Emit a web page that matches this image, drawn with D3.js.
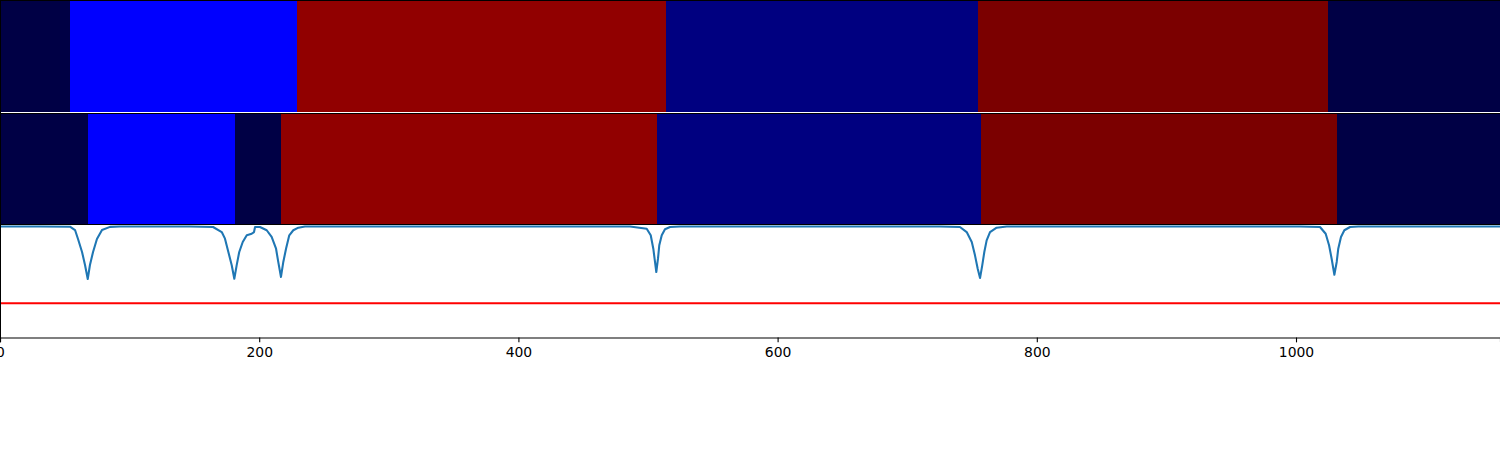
<!DOCTYPE html>
<html>
<head>
<meta charset="utf-8">
<script src="https://cdn.jsdelivr.net/npm/d3@7"></script>
<style>
  html, body { margin: 0; padding: 0; background: #fff; }
  svg { display: block; }
</style>
</head>
<body>
<svg id="chart" width="1500" height="450"></svg>
<script>
// ---- data ----
const xMax = 1157.4;
const xTicks = [0, 200, 400, 600, 800, 1000];

// row 1 segments: start positions and class
const row1Starts = [0, 54.0, 229.2, 513.9, 754.6, 1024.7];
const row1Classes = ["c0", "c1", "c3", "c2", "c4", "c0"];

// row 2 segments
const row2Starts = [0, 67.7, 181.6, 216.8, 506.9, 757.0, 1031.6];
const row2Classes = ["c0", "c1", "c0", "c3", "c2", "c4", "c0"];

const classColors = { c0: "#000045", c1: "#0000ff", c2: "#000080", c3: "#910000", c4: "#7b0000" };

// signal curve (x, value)
const signalX = [0, 30.9, 54.0, 57.9, 60.2, 63.3, 65.6, 67.7, 69.4, 71.8, 74.8, 78.7, 84.9, 92.6,
  146.6, 164.4, 171.1, 173.6, 176.2, 178.8, 180.8, 182.6, 184.6, 187.3, 190.4, 194.2, 196.0, 196.8, 200.6,
  205.8, 209.6, 213.0, 214.7, 216.8, 218.6, 220.7, 223.2, 226.3, 230.2, 235.3, 246.9,
  486.1, 499.0, 502.1, 504.1, 505.4, 506.4, 507.7, 508.7, 510.6, 513.1, 517.0, 524.7,
  725.3, 740.7, 745.9, 749.8, 752.3, 754.4, 756.2, 757.9, 759.5, 761.3, 763.9, 769.0, 776.8,
  1003.1, 1018.5, 1022.9, 1025.5, 1027.5, 1029.6, 1031.4, 1032.6, 1034.7, 1037.3, 1041.7, 1048.1, 1157.4];
const signalY = [0.996, 0.996, 0.994, 0.964, 0.884, 0.768, 0.652, 0.527, 0.652, 0.768, 0.884, 0.964, 0.992, 0.996,
  0.996, 0.991, 0.946, 0.887, 0.768, 0.649, 0.529, 0.649, 0.768, 0.857, 0.917, 0.931, 0.946, 0.991, 0.991,
  0.962, 0.902, 0.797, 0.679, 0.545, 0.679, 0.797, 0.917, 0.962, 0.985, 0.996, 0.996,
  0.996, 0.976, 0.917, 0.797, 0.679, 0.589, 0.708, 0.828, 0.917, 0.971, 0.991, 0.996,
  0.996, 0.991, 0.946, 0.857, 0.738, 0.619, 0.536, 0.649, 0.768, 0.872, 0.946, 0.985, 0.996,
  0.996, 0.991, 0.931, 0.828, 0.708, 0.565, 0.679, 0.797, 0.902, 0.962, 0.991, 0.996, 0.996];

const threshold = 0.31;

// ---- drawing ----
const svg = d3.select("#chart");
svg.append("rect").attr("width", 1500).attr("height", 450).attr("fill", "#fff");

const x = d3.scaleLinear().domain([0, xMax]).range([0, 1500]);

function segs(starts, classes) {
  return starts.map((s, i) => ({ x0: s, x1: i + 1 < starts.length ? starts[i + 1] : xMax, c: classes[i] }));
}

// row 1
svg.append("g").selectAll("rect").data(segs(row1Starts, row1Classes)).join("rect")
  .attr("x", d => x(d.x0)).attr("width", d => x(d.x1) - x(d.x0) + 0.5)
  .attr("y", 0).attr("height", 112)
  .attr("fill", d => classColors[d.c]).attr("shape-rendering", "crispEdges");

// row 2
svg.append("g").selectAll("rect").data(segs(row2Starts, row2Classes)).join("rect")
  .attr("x", d => x(d.x0)).attr("width", d => x(d.x1) - x(d.x0) + 0.5)
  .attr("y", 114).attr("height", 110.5)
  .attr("fill", d => classColors[d.c]).attr("shape-rendering", "crispEdges");

// panel 3
const y3 = d3.scaleLinear().domain([0, 1]).range([338, 226]);
const pts = signalX.map((v, i) => [v, signalY[i]]);

svg.append("line").attr("x1", 0).attr("x2", 1500)
  .attr("y1", y3(threshold)).attr("y2", y3(threshold))
  .attr("stroke", "#ff0000").attr("stroke-width", 2.08);

svg.append("path").datum(pts)
  .attr("d", d3.line().x(d => x(d[0])).y(d => y3(d[1])).curve(d3.curveLinear))
  .attr("fill", "none").attr("stroke", "#1f77b4").attr("stroke-width", 2.08)
  .attr("stroke-linejoin", "round").attr("stroke-linecap", "round");

// spines
const spine = svg.append("g").attr("stroke", "#000").attr("stroke-width", 1).attr("shape-rendering", "crispEdges");
spine.append("line").attr("x1", 0).attr("x2", 1500).attr("y1", 0.5).attr("y2", 0.5);
spine.append("line").attr("x1", 0).attr("x2", 1500).attr("y1", 113.5).attr("y2", 113.5);
spine.append("line").attr("x1", 0).attr("x2", 1500).attr("y1", 224.8).attr("y2", 224.8);
spine.append("line").attr("x1", 0.5).attr("x2", 0.5).attr("y1", 0).attr("y2", 338);

// x axis
const axis = svg.append("g").attr("transform", "translate(0,337.5)")
  .call(d3.axisBottom(x).tickValues(xTicks).tickFormat(d3.format("d")).tickSizeOuter(0).tickSize(4.86).tickPadding(4.86));
axis.select(".domain").attr("stroke", "#000").attr("stroke-width", 1.1);
axis.selectAll(".tick line").attr("stroke", "#000").attr("stroke-width", 1.1);
axis.selectAll("text").attr("font-family", "DejaVu Sans").attr("font-size", "13.9px").attr("fill", "#000");
</script>
</body>
</html>
